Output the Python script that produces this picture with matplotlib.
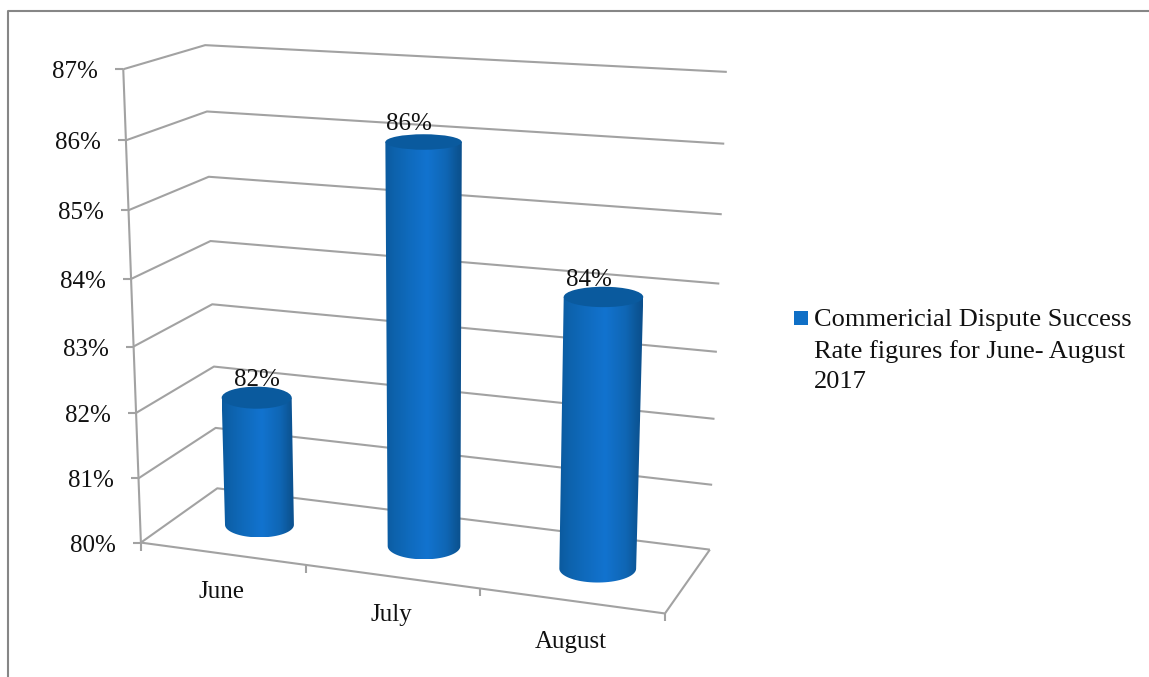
import numpy as np
import matplotlib
matplotlib.use("Agg")
import matplotlib.pyplot as plt
from matplotlib.colors import LinearSegmentedColormap
from matplotlib.patches import Ellipse, PathPatch, Rectangle
from matplotlib.path import Path

plt.rcParams["font.family"] = ["Liberation Serif", "DejaVu Serif"]

months = ["June", "July", "August"]
rates = [82, 86, 84]
y_ticks = [80, 81, 82, 83, 84, 85, 86, 87]
legend_text = "Commericial Dispute Success\nRate figures for June- August\n2017"

W, H = 1149, 677
GREY = "#a2a2a2"
BLUE = "#0f6fc6"

# box edges on the canvas, used to solve the camera for the fake 3d view
front_left_x = [141, 139, 136.5, 134, 131, 128.5, 126, 123]
front_left_y = [543, 478, 413, 346, 278, 210, 140, 70]
back_left_x = [217, 216, 214, 212, 210, 209, 207, 205]
back_left_y = [488, 428, 367, 305, 241, 177, 111, 45]
back_right_x = [710, 712, 715, 717, 719, 722, 724, 727]
back_right_y = [549, 484, 419, 352, 284, 214, 144, 72]
front_floor = [(1, 566, 305), (2, 588, 480), (3, 614, 665)]


def solve_camera():
    world, screen = [], []
    for i, v in enumerate(y_ticks):
        world.append((0, 0, v - 80))
        screen.append((front_left_x[i], front_left_y[i]))
        world.append((0, 1, v - 80))
        screen.append((back_left_x[i], back_left_y[i]))
        world.append((3, 1, v - 80))
        screen.append((back_right_x[i], back_right_y[i]))
    for u, sy, sx in front_floor:
        world.append((u, 0, 0))
        screen.append((sx, sy))
    rows = []
    for (u, d, z), (sx, sy) in zip(world, screen):
        rows.append([u, d, z, 1, 0, 0, 0, 0, -sx * u, -sx * d, -sx * z, -sx])
        rows.append([0, 0, 0, 0, u, d, z, 1, -sy * u, -sy * d, -sy * z, -sy])
    return np.linalg.svd(np.array(rows, dtype=float))[2][-1].reshape(3, 4)


cam = solve_camera()


def proj(u, d, value):
    p = cam @ np.array([u, d, value - 80, 1.0])
    return p[0] / p[2], p[1] / p[2]


def line(ax, pts, lw=1.5, z=1):
    xs, ys = zip(*pts)
    ax.plot(xs, ys, color=GREY, lw=lw, solid_capstyle="butt", zorder=z)


fig = plt.figure(figsize=(W / 100, H / 100), dpi=100)
ax = fig.add_axes([0, 0, 1, 1])

# outer frame, only top and left show
ax.plot([8, 8, W], [H, 11, 11], color="#868686", lw=1.5, zorder=1)

# walls and left axis
for v in y_ticks:
    line(ax, [proj(0, 0, v), proj(0, 1, v), proj(3, 1, v)])
    x0, y0 = proj(0, 0, v)
    line(ax, [(x0 - 8, y0), (x0, y0)])
    ax.text(x0 - 25, y0 + 3, "%d%%" % v, ha="right", va="center", fontsize=18, color="#111111")
line(ax, [proj(0, 0, 80), proj(0, 0, 87)])

# floor front and right edges plus category ticks
line(ax, [proj(0, 0, 80), proj(3, 0, 80), proj(3, 1, 80)])
for u in range(4):
    x0, y0 = proj(u, 0, 80)
    line(ax, [(x0, y0), (x0, y0 + 8)])

side_cmap = LinearSegmentedColormap.from_list(
    "side",
    [(0, "#0b5a9e"), (0.12, "#0d62ac"), (0.3, "#0f6abc"), (0.55, "#1273cf"),
     (0.8, "#0f66b4"), (0.93, "#0c5697"), (1, "#0b4f8c")],
)
gradient = np.linspace(0, 1, 256).reshape(1, -1)
radius_u, radius_d = 0.215, 0.2
label_dx = [0, -15, -15]
label_dy = [-18, -18, -17]
label_drop = [38, 38, 41]


def disc(u, value):
    cx, cy = proj(u + 0.5, 0.5, value)
    half_w = (proj(u + 0.5 + radius_u, 0.5, value)[0] - proj(u + 0.5 - radius_u, 0.5, value)[0]) / 2
    half_h = (proj(u + 0.5, 0.5 - radius_d, value)[1] - proj(u + 0.5, 0.5 + radius_d, value)[1]) / 2
    return cx, cy, half_w, half_h


for i, (month, rate) in enumerate(zip(months, rates)):
    tx, ty, tw, th = disc(i, rate)
    bx, by, bw, bh = disc(i, 80)
    th += 1.5
    bh += 1.5

    # body outline: the two sides closed by the lower half of the base disc
    t = np.linspace(0, np.pi, 40)
    arc_x = bx + bw * np.cos(t)
    arc_y = by + bh * np.sin(t)
    verts = [(tx - tw, ty), (tx + tw, ty)] + list(zip(arc_x, arc_y)) + [(tx - tw, ty)]
    codes = [Path.MOVETO] + [Path.LINETO] * (len(verts) - 2) + [Path.CLOSEPOLY]
    body = PathPatch(Path(verts, codes), facecolor="none", edgecolor="none", zorder=3)
    ax.add_patch(body)
    left, right = min(tx - tw, bx - bw), max(tx + tw, bx + bw)
    im = ax.imshow(gradient, cmap=side_cmap, extent=[left, right, by + bh, ty], aspect="auto", zorder=3)
    im.set_clip_path(body)

    ax.add_patch(Ellipse((tx, ty), 2 * tw, 2 * th, facecolor="#0a5a9e", edgecolor="none", zorder=4))

    ax.text(tx + label_dx[i], ty + label_dy[i], "%d%%" % rate, ha="center", va="center",
            fontsize=18, color="#111111", zorder=5)
    fx, fy = proj(i + 0.5, 0, 80)
    ax.text(fx - 1, fy + label_drop[i], month, ha="center", va="center", fontsize=18, color="#111111")

# legend
ax.add_patch(Rectangle((794, 311), 14, 14, facecolor=BLUE, edgecolor="none"))
ax.text(814, 309, legend_text, ha="left", va="top", fontsize=19, linespacing=1.5, color="#111111")

ax.set_xlim(0, W)
ax.set_ylim(H, 0)
ax.axis("off")

fig.savefig("out.png", dpi=100, facecolor="white")
